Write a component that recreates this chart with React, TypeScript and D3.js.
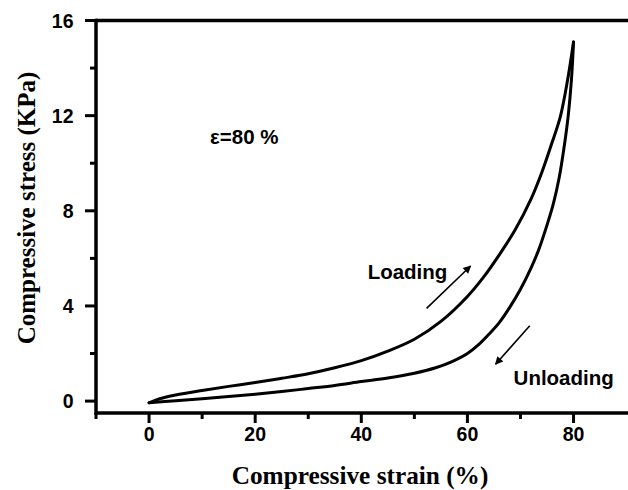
import React from "react";
import * as d3 from "d3";

// Loading branch (strain %, stress KPa)
const loadingStrain = [0, 2, 5, 10, 15, 20, 25, 30, 35, 40, 45, 50, 55, 60, 63, 66, 69, 72, 74, 76, 77.5, 78.8, 80];
const loadingStress = [-0.07, 0.1, 0.26, 0.45, 0.62, 0.78, 0.96, 1.15, 1.4, 1.7, 2.1, 2.6, 3.35, 4.4, 5.2, 6.15, 7.2, 8.5, 9.6, 10.9, 11.95, 13.4, 15.1];
// Unloading branch
const unloadingStrain = [80, 79.6, 79, 78.3, 77.3, 76.2, 75, 73.5, 72, 70, 68, 66, 64, 62, 60, 57, 54, 50, 45, 40, 35, 30, 25, 20, 15, 10, 5, 0];
const unloadingStress = [15.1, 13.5, 12.0, 10.8, 9.4, 8.3, 7.4, 6.4, 5.6, 4.7, 3.95, 3.3, 2.8, 2.35, 2.0, 1.65, 1.4, 1.17, 0.97, 0.82, 0.66, 0.53, 0.4, 0.29, 0.19, 0.1, 0.02, -0.07];

const xMajorTicks = [0, 20, 40, 60, 80];
const xMinorTicks = [-10, 10, 30, 50, 70];
const yMajorTicks = [0, 4, 8, 12, 16];
const yMinorTicks = [2, 6, 10, 14];

const xLabel = "Compressive strain (%)";
const yLabel = "Compressive stress (KPa)";

// annotations (data coordinates)
const notes = [
  { text: "ε=80 %", x: 11.5, y: 10.79 },
  { text: "Loading", x: 41.2, y: 5.13 },
  { text: "Unloading", x: 68.7, y: 0.68 },
];
const arrows = [
  { x1: 52.3, y1: 3.9, x2: 60.6, y2: 5.68 },
  { x1: 71.75, y1: 3.17, x2: 65.3, y2: 1.55 },
];

export default function App() {
  const W = 628;
  const H = 490;
  const left = 96;
  const top = 20.5;
  const bottom = 413;
  const pxPerUnit = 5.306;
  const x = d3.scaleLinear().domain([-10, 100]).range([left, left + 110 * pxPerUnit]);
  const y = d3.scaleLinear().domain([-0.5, 16]).range([bottom, top]);

  const line = d3
    .line<[number, number]>()
    .x((d) => x(d[0]))
    .y((d) => y(d[1]))
    .curve(d3.curveCatmullRom.alpha(0.5));

  const loadPts = loadingStrain.map((v, i) => [v, loadingStress[i]] as [number, number]);
  const unloadPts = unloadingStrain.map((v, i) => [v, unloadingStress[i]] as [number, number]);

  const sans = "'Liberation Sans', Arial, sans-serif";
  const serif = "'Liberation Serif', 'Times New Roman', serif";
  const axisW = 3.5;

  return (
    <svg
      width={W}
      height={H}
      style={{ position: "absolute", left: 0, top: 0, background: "#fff" }}
    >
      <defs>
        <marker id="ah" viewBox="0 0 10 10" refX="9" refY="5" markerWidth="11" markerHeight="8" markerUnits="userSpaceOnUse" orient="auto">
          <path d="M0,0 L10,5 L0,10 Z" fill="#000" />
        </marker>
      </defs>
      <rect x={0} y={0} width={W} height={H} fill="#fff" />

      {/* frame */}
      <line x1={left} x2={W + 2} y1={top} y2={top} stroke="#000" strokeWidth={axisW} />
      <line x1={left} x2={W + 2} y1={bottom} y2={bottom} stroke="#000" strokeWidth={axisW} />
      <line x1={left} x2={left} y1={top - axisW / 2} y2={bottom + axisW / 2} stroke="#000" strokeWidth={axisW} />

      {/* x ticks */}
      {xMajorTicks.map((t) => (
        <g key={"xm" + t}>
          <line x1={x(t)} x2={x(t)} y1={bottom} y2={bottom + 10} stroke="#000" strokeWidth={3} />
          <text x={x(t)} y={440.5} textAnchor="middle" fontFamily={sans} fontWeight="bold" fontSize={19.5}>
            {t}
          </text>
        </g>
      ))}
      {xMinorTicks.map((t) => (
        <line key={"xn" + t} x1={x(t)} x2={x(t)} y1={bottom} y2={bottom + 6} stroke="#000" strokeWidth={3} />
      ))}

      {/* y ticks */}
      {yMajorTicks.map((t) => (
        <g key={"ym" + t}>
          <line x1={left - 11} x2={left} y1={y(t)} y2={y(t)} stroke="#000" strokeWidth={3} />
          <text x={73.5} y={y(t) + 7} textAnchor="end" fontFamily={sans} fontWeight="bold" fontSize={19.5}>
            {t}
          </text>
        </g>
      ))}
      {yMinorTicks.map((t) => (
        <line key={"yn" + t} x1={left - 6} x2={left} y1={y(t)} y2={y(t)} stroke="#000" strokeWidth={3} />
      ))}

      {/* axis titles */}
      <text x={360} y={484} textAnchor="middle" fontFamily={serif} fontWeight="bold" fontSize={25.3}>
        {xLabel}
      </text>
      <text
        transform={`translate(35,208) rotate(-90)`}
        textAnchor="middle"
        fontFamily={serif}
        fontWeight="bold"
        fontSize={25}
      >
        {yLabel}
      </text>

      {/* curves */}
      <path d={line(loadPts) || ""} fill="none" stroke="#000" strokeWidth={3} strokeLinejoin="round" strokeLinecap="round" />
      <path d={line(unloadPts) || ""} fill="none" stroke="#000" strokeWidth={3} strokeLinejoin="round" strokeLinecap="round" />

      {/* arrows */}
      {arrows.map((a, i) => (
        <line key={"ar" + i} x1={x(a.x1)} y1={y(a.y1)} x2={x(a.x2)} y2={y(a.y2)} stroke="#000" strokeWidth={1.6} markerEnd="url(#ah)" />
      ))}

      {/* notes */}
      {notes.map((n) => (
        <text key={n.text} x={x(n.x)} y={y(n.y)} fontFamily={sans} fontWeight="bold" fontSize={20.5}>
          {n.text}
        </text>
      ))}
    </svg>
  );
}
